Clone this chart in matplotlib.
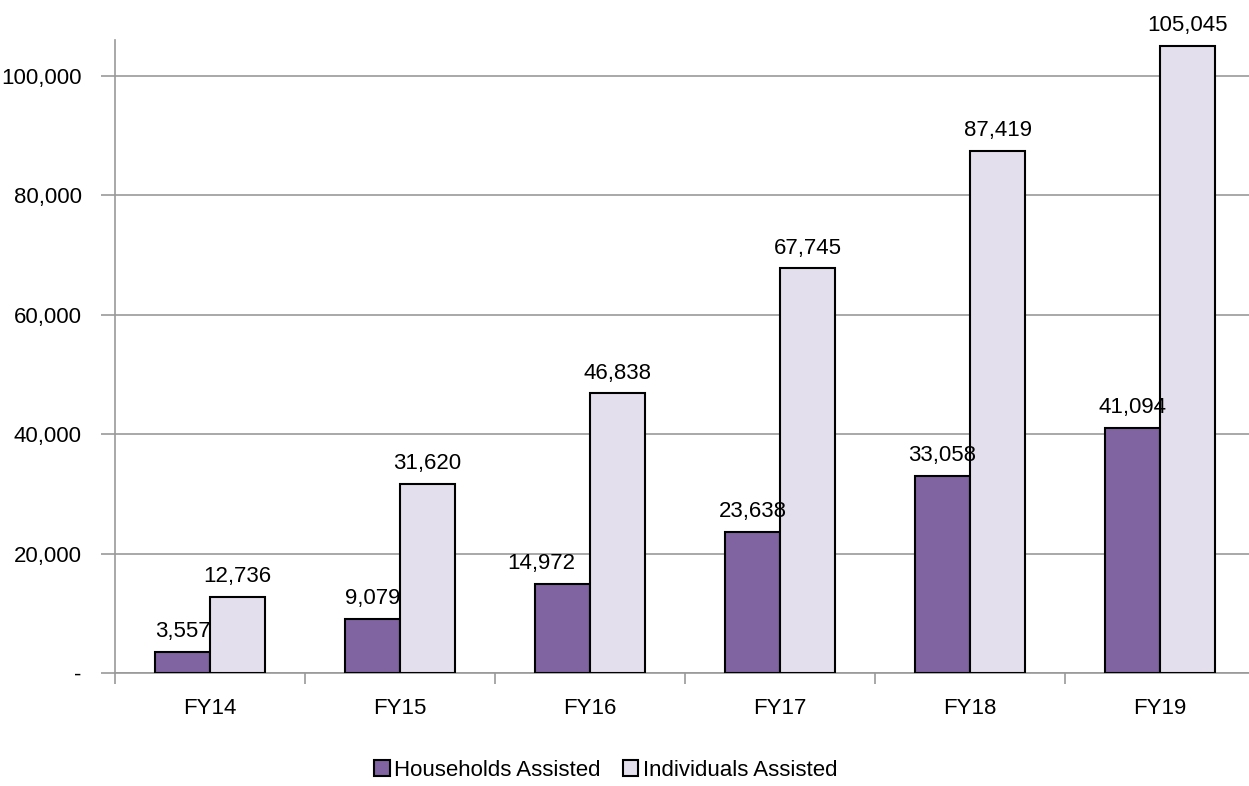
import numpy as np
import matplotlib.pyplot as plt
from matplotlib.ticker import FuncFormatter

plt.rcParams['font.family'] = ['Liberation Sans Narrow', 'Liberation Sans', 'DejaVu Sans']

years = ['FY14', 'FY15', 'FY16', 'FY17', 'FY18', 'FY19']
households = [3557, 9079, 14972, 23638, 33058, 41094]
individuals = [12736, 31620, 46838, 67745, 87419, 105045]

fig = plt.figure(figsize=(12.49, 7.86), dpi=100)
ax = fig.add_axes([115/1249, 1-673/786, 1140/1249, 633/786])

x = np.arange(len(years))
w = 0.29
b1 = ax.bar(x - w/2, households, w, color='#8064A2', edgecolor='black', linewidth=1.5,
            label='Households Assisted', zorder=3)
b2 = ax.bar(x + w/2, individuals, w, color='#E4DFEC', edgecolor='black', linewidth=1.5,
            label='Individuals Assisted', zorder=3)

fs = 16
lab1 = ax.bar_label(b1, labels=[f'{v:,}' for v in households], padding=7, fontsize=fs)
ax.bar_label(b2, labels=[f'{v:,}' for v in individuals], padding=7, fontsize=fs)
# FY16 household label is nudged left, off the taller bar (offset in points)
lab1[2].set_horizontalalignment('right')
lab1[2].set_x(9)

ax.set_xlim(-0.5, len(years) - 0.5)
ax.set_ylim(0, 106000)
ax.set_yticks(np.arange(0, 100001, 20000))
ax.yaxis.set_major_formatter(FuncFormatter(lambda v, p: '-' if v == 0 else f'{int(v):,}'))
ax.yaxis.grid(True, color='#999999', linewidth=1.2, zorder=0)

ax.set_xticks(x)
ax.set_xticklabels(years)
ax.set_xticks(np.arange(-0.5, len(years), 1), minor=True)
ax.tick_params(axis='x', which='major', length=0, pad=18, labelsize=fs)
ax.tick_params(axis='x', which='minor', length=8, color='#999999', width=1.2)
ax.tick_params(axis='y', length=10, color='#999999', width=1.2, labelsize=fs, pad=14)

for s in ('top', 'right'):
    ax.spines[s].set_visible(False)
for s in ('left', 'bottom'):
    ax.spines[s].set_color('#999999')
    ax.spines[s].set_linewidth(1.2)

fig.legend(handles=[b1, b2], loc='center', bbox_to_anchor=(0.485, 1-770/786), ncol=2,
           frameon=False, fontsize=fs, handlelength=0.7, handleheight=0.7,
           handletextpad=0.2, columnspacing=1.0)

fig.savefig('out.png', dpi=100)
